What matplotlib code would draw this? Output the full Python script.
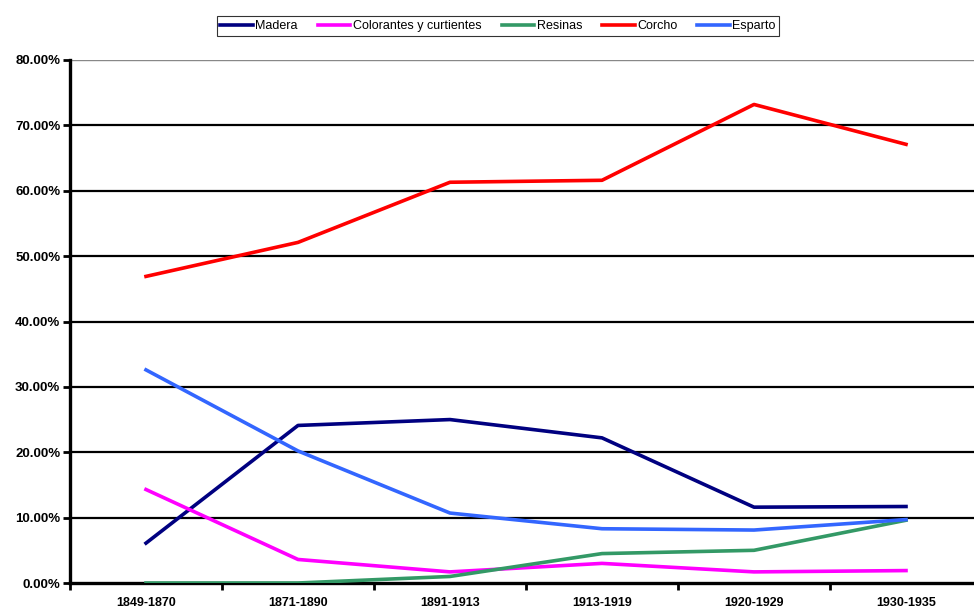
import numpy as np
import matplotlib.pyplot as plt
from matplotlib.ticker import FuncFormatter

periods = ["1849-1870", "1871-1890", "1891-1913", "1913-1919", "1920-1929", "1930-1935"]

madera     = [6.1, 24.1, 25.0, 22.2, 11.6, 11.7]
colorantes = [14.3, 3.6, 1.7, 3.0, 1.7, 1.9]
resinas    = [0.0, 0.0, 1.0, 4.5, 5.0, 9.6]
corcho     = [46.9, 52.1, 61.3, 61.6, 73.2, 67.1]
esparto    = [32.6, 20.2, 10.7, 8.3, 8.1, 9.7]

series = [
    ("Madera", madera, "#000080"),
    ("Colorantes y curtientes", colorantes, "#FF00FF"),
    ("Resinas", resinas, "#339966"),
    ("Corcho", corcho, "#FF0000"),
    ("Esparto", esparto, "#3366FF"),
]

plt.rcParams["font.family"] = ["Liberation Sans", "DejaVu Sans"]

fig = plt.figure(figsize=(9.74, 6.11), dpi=100)
W, H = 974, 611
left, right, top, bottom = 70, 982, 60, 583
ax = fig.add_axes([left / W, 1 - bottom / H, (right - left) / W, (bottom - top) / H])

x = np.arange(len(periods)) + 0.5
for name, vals, col in series:
    ax.plot(x, vals, color=col, lw=2.6, label=name, solid_joinstyle="round", zorder=3)

ax.set_xlim(0, len(periods))
ax.set_ylim(0, 80)

# gridlines
for v in range(10, 80, 10):
    ax.axhline(v, color="black", lw=1.6, zorder=1)
ax.axhline(80, color="#888888", lw=1.0, zorder=1)

for s in ["top", "right"]:
    ax.spines[s].set_visible(False)
ax.spines["left"].set_linewidth(2.4)
ax.spines["bottom"].set_linewidth(2.4)

ax.set_yticks(range(0, 81, 10))
ax.yaxis.set_major_formatter(FuncFormatter(lambda v, p: f"{v:.2f}%"))
ax.tick_params(axis="y", length=5, width=2, direction="out", labelsize=9.5, pad=2)

ax.set_xticks(x)
ax.set_xticklabels(periods)
ax.set_xticks(np.arange(0, len(periods) + 1), minor=True)
ax.tick_params(axis="x", which="major", length=0, labelsize=9, pad=10)
ax.tick_params(axis="x", which="minor", length=5, width=2, direction="out")
for lab in ax.get_xticklabels() + ax.get_yticklabels():
    lab.set_fontweight("bold")

leg = fig.legend(loc="upper center", bbox_to_anchor=(498 / W, 1 - 10 / H), ncol=5,
                 fontsize=9, frameon=True, fancybox=False, handlelength=2.6,
                 handletextpad=0.2, columnspacing=1.6, borderpad=0.3)
leg.get_frame().set_edgecolor("black")
leg.get_frame().set_linewidth(0.8)

fig.savefig("out.png", dpi=100, facecolor="white")
